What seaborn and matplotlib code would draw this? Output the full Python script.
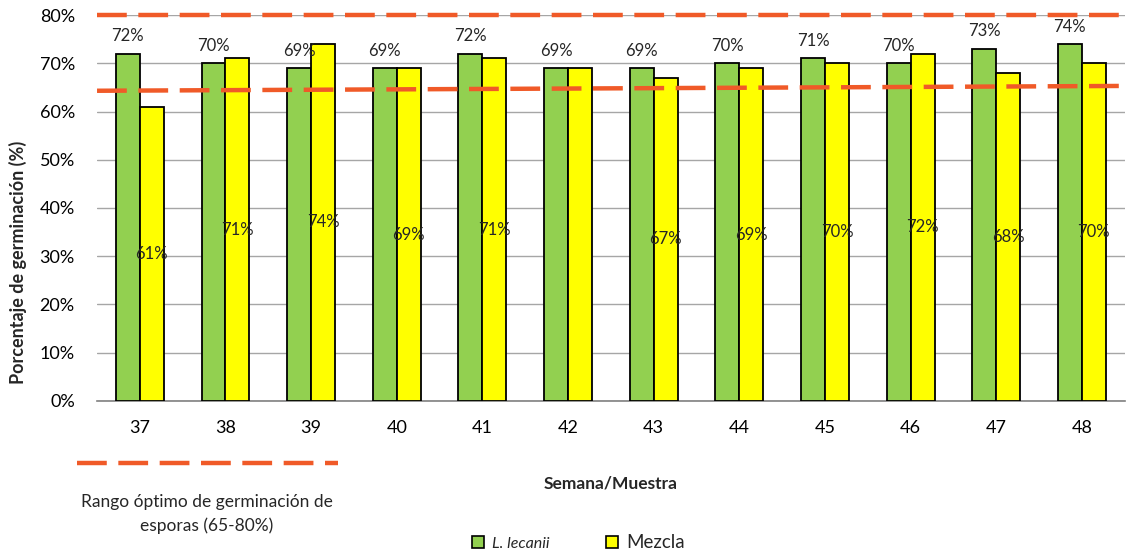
import matplotlib
matplotlib.use("Agg")
import matplotlib.pyplot as plt
import seaborn as sns
import pandas as pd
from matplotlib.lines import Line2D
from matplotlib.patches import Patch

# Weekly germination percentages
semanas = ["37", "38", "39", "40", "41", "42", "43", "44", "45", "46", "47", "48"]
lecanii = [72, 70, 69, 69, 72, 69, 69, 70, 71, 70, 73, 74]
mezcla = [61, 71, 74, 69, 71, 69, 67, 69, 70, 72, 68, 70]
mezcla_etiqueta = [True, True, True, True, True, False, True, True, True, True, True, True]

# Optimal germination range lines (upper limit, lower limit drawn across the axis)
limite_superior = [80, 80]
limite_inferior = [64.3, 65.3]

series = ["L. lecanii", "Mezcla"]
colores = ["#92D050", "#FFFF00"]
naranja = "#F05A28"

df = pd.DataFrame({
    "Semana": semanas * 2,
    "Serie": [series[0]] * len(semanas) + [series[1]] * len(semanas),
    "Valor": lecanii + mezcla,
})

sns.set_theme(style="white")
plt.rcParams["font.family"] = ["Lato", "DejaVu Sans"]

fig = plt.figure(figsize=(11.27, 5.52), dpi=100)
ax = fig.add_axes([0.0861, 0.2736, 0.9119, 0.6992])

sns.barplot(data=df, x="Semana", y="Valor", hue="Serie", palette=colores,
            saturation=1, width=0.56, edgecolor="black", linewidth=1.3, ax=ax,
            legend=False, zorder=3)

ax.set_ylim(0, 80)
ax.set_xlim(-0.5, len(semanas) - 0.5)
ax.set_yticks(range(0, 81, 10))
ax.set_yticklabels([f"{v}%" for v in range(0, 81, 10)], fontsize=13)
ax.yaxis.grid(True, color="#A6A6A6", linewidth=1.0, zorder=0)
ax.set_axisbelow(True)
for s in ["left", "right", "top"]:
    ax.spines[s].set_visible(False)
ax.spines["bottom"].set_color("#808080")
ax.spines["bottom"].set_linewidth(1.2)
ax.tick_params(axis="y", length=0, pad=16, colors="black")

# Category labels centred, tick marks between categories
ax.set_xticks(range(len(semanas)))
ax.set_xticklabels(semanas, fontsize=13)
ax.tick_params(axis="x", which="major", length=0, pad=14, colors="black")
ax.set_xticks([i - 0.5 for i in range(len(semanas) + 1)], minor=True)
ax.tick_params(axis="x", which="minor", length=6, width=1.2, color="#808080", direction="out")

ax.set_xlabel("Semana/Muestra", fontsize=12.5, fontweight="bold", labelpad=28)
ax.set_ylabel("Porcentaje de germinación (%)", fontsize=13, fontweight="bold")
ax.yaxis.set_label_coords(-0.068, 0.36)

# Value labels
bars_l, bars_m = ax.containers[0], ax.containers[1]
for rect, v in zip(bars_l, lecanii):
    ax.text(rect.get_x() + rect.get_width() / 2, v + 3.6, f"{v}%",
            ha="center", va="center", fontsize=12, zorder=5)
for rect, v, show in zip(bars_m, mezcla, mezcla_etiqueta):
    if show:
        ax.text(rect.get_x() + rect.get_width() / 2, v / 2, f"{v}%",
                ha="center", va="center", fontsize=12, zorder=5)

# Optimal range dashed lines
linea_kw = dict(color=naranja, linewidth=3.2, dashes=(6.7, 2.6),
                dash_capstyle="butt", clip_on=False, zorder=4)
xl = ax.get_xlim()
ax.plot(list(xl), limite_superior, **linea_kw)
ax.plot(list(xl), limite_inferior, **linea_kw)

# Key for the range line (bottom left): dashed sample with caption beneath
fig.add_artist(Line2D([0.0683, 0.2999], [0.1612, 0.1612], transform=fig.transFigure,
                      color=naranja, linewidth=3.2, dashes=(6.7, 2.6),
                      dash_capstyle="butt"))
fig.text(0.1837, 0.0685, "Rango óptimo de germinación de\nesporas (65-80%)",
         ha="center", va="center", fontsize=12.5, linespacing=1.55)

# Series legend (bottom centre)
handles = [Patch(facecolor=c, edgecolor="black", linewidth=1.2) for c in colores]
leg2 = fig.legend(handles=handles, labels=series, loc="center",
                  bbox_to_anchor=(0.513, 0.018), ncol=2, frameon=False,
                  fontsize=12, handlelength=0.75, handleheight=0.75,
                  handletextpad=0.45, columnspacing=3.4, borderaxespad=0)
leg2.get_texts()[0].set_fontstyle("italic")
leg2.get_texts()[0].set_fontsize(11.5)
leg2.get_texts()[1].set_fontsize(13.5)

fig.savefig("out.png", dpi=100, facecolor="white")
